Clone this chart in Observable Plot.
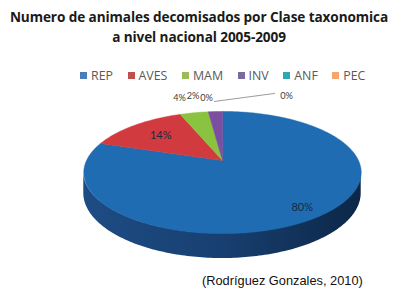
<!DOCTYPE html>
<html><head><meta charset="utf-8">
<script src="https://cdn.jsdelivr.net/npm/d3@7"></script>
<script src="https://cdn.jsdelivr.net/npm/@observablehq/plot@0.6"></script>
<style>
body{margin:0;background:#fff;width:396px;height:295px;position:relative;overflow:hidden;font-family:"Open Sans",Lato,sans-serif;}
#title{position:absolute;left:0;top:7px;width:398px;text-align:center;font-weight:bold;font-size:13.6px;line-height:20px;color:#1a1a1a;letter-spacing:-0.1px;}
#legend{position:absolute;left:80px;top:59px;white-space:nowrap;}
#chart{position:absolute;left:0;top:80px;}
#caption{position:absolute;left:202px;top:273px;font-family:"Liberation Sans",Arial,sans-serif;font-size:12.8px;color:#111;}
.lg-swatches{font-family:"Open Sans",sans-serif !important;font-size:12.4px !important;color:#595959 !important;margin:0 !important;}
.lg-swatch{margin-right:14.5px !important;}
.lg-swatch > svg{margin-right:4px !important;}
</style></head><body>
<div id="title"></div><div id="legend"></div><div id="chart"></div><div id="caption"></div>
<script>
const categories = ["REP","AVES","MAM","INV","ANF","PEC"];
const percents = [80,14,4,2,0,0];
const sliceColors = ["#1F6CB3","#D13A3F","#8AC340","#7B4E9F","#2FA3B5","#F39A5C"];
const legendColors = ["#4A7EBB","#C0504D","#9BBB59","#7A6A9E","#31A6B5","#F5A46E"];
const titleLines = ["Numero de animales decomisados por Clase taxonomica","a nivel nacional 2005-2009"];
const caption = "(Rodríguez Gonzales, 2010)";

const W = 396, H = 185;
const CX = 222, CY = 80, RX = 136, RY = 58.7, P = 0.197, DEPTH = 20;
function proj(r, deg) {
  const t = deg * Math.PI / 180;
  const X = r * Math.sin(t), Z = -r * Math.cos(t);
  const f = 1 / (1 - P * Z);
  return {x: CX + RX * X * f, y: CY + RY * Z * f, f};
}

// slices
const total = d3.sum(percents);
let acc = 0;
const slices = categories.map((c, i) => {
  const a0 = acc / total * 360; acc += percents[i];
  const a1 = acc / total * 360;
  return {cat: c, value: percents[i], a0, a1, mid: (a0 + a1) / 2};
});
const slicePts = [];
for (const s of slices) {
  if (s.value <= 0) continue;
  const o = proj(0, 0);
  slicePts.push({cat: s.cat, x: o.x, y: o.y});
  const n = Math.max(2, Math.ceil(s.a1 - s.a0));
  for (let k = 0; k <= n; k++) {
    const p = proj(1, s.a0 + (s.a1 - s.a0) * k / n);
    slicePts.push({cat: s.cat, x: p.x, y: p.y});
  }
  slicePts.push({cat: s.cat, x: o.x, y: o.y});
}
// side band (visible near half)
const aSide = Math.acos(-P) * 180 / Math.PI;
const sideData = [];
for (let k = 0; k <= 160; k++) {
  const a = aSide + (360 - 2 * aSide) * k / 160;
  const p = proj(1, a);
  sideData.push({x: p.x, y1: p.y, y2: p.y + DEPTH * p.f});
}
// labels
const inner = [], outer = [];
for (const s of slices) {
  const txt = s.value + "%";
  if (s.value >= 10) {
    const p = proj(s.value > 50 ? 0.86 : 0.68, s.mid);
    inner.push({x: p.x, y: p.y, text: txt});
  } else outer.push({cat: s.cat, text: txt, mid: s.mid});
}
const outR = 1.39;
const leaderLabel = outer[outer.length - 1];
const row = outer.slice(0, -1);
let nextX = null;
const rowLabels = [];
for (let i = row.length - 1; i >= 0; i--) {
  const p = proj(outR, row[i].mid);
  let x = nextX === null ? p.x - 16 : Math.min(p.x, nextX - 13.5);
  rowLabels.unshift({x, y: p.y + (i === row.length - 1 ? 2 : 0), text: row[i].text});
  nextX = x;
}
const lp = proj(outR, leaderLabel.mid);
const leaderText = [{x: lp.x + 64, y: lp.y, text: leaderLabel.text}];
const lastRow = rowLabels[rowLabels.length - 1];
const leader = [{x: lastRow.x + 8, y: lastRow.y + 3}, {x: lp.x + 52, y: lp.y - 3}];

const defsMark = () => {
  const ns = "http://www.w3.org/2000/svg";
  const defs = document.createElementNS(ns, "defs");
  const g = document.createElementNS(ns, "linearGradient");
  g.setAttribute("id", "sideGrad");
  g.setAttribute("x1", "0"); g.setAttribute("x2", "1"); g.setAttribute("y1", "0"); g.setAttribute("y2", "0");
  [["0", "#1D4C84"], ["0.5", "#183F70"], ["1", "#0C2747"]].forEach(([o, c]) => {
    const st = document.createElementNS(ns, "stop");
    st.setAttribute("offset", o); st.setAttribute("stop-color", c);
    g.appendChild(st);
  });
  defs.appendChild(g);
  return defs;
};

const chart = Plot.plot({
  width: W, height: H, margin: 0,
  style: {background: "transparent"},
  x: {domain: [0, W], range: [0, W], axis: null},
  y: {domain: [0, H], range: [0, H], axis: null},
  color: {domain: categories, range: sliceColors},
  marks: [
    defsMark,
    Plot.areaY(sideData, {x: "x", y1: "y1", y2: "y2", fill: "url(#sideGrad)"}),
    Plot.line(slicePts, {x: "x", y: "y", z: "cat", fill: "cat", stroke: "cat", strokeWidth: 0.5, curve: "linear"}),
    Plot.text(inner, {x: "x", y: "y", text: "text", fontSize: 11, fontFamily: "Lato", fill: "#1a2a40"}),
    Plot.text(rowLabels, {x: "x", y: "y", text: "text", fontSize: 9.2, fontFamily: "Lato", fill: "#404040"}),
    Plot.text(leaderText, {x: "x", y: "y", text: "text", fontSize: 9.2, fontFamily: "Lato", fill: "#404040"}),
    Plot.line(leader, {x: "x", y: "y", stroke: "#808080", strokeWidth: 0.8})
  ]
});
document.getElementById("chart").appendChild(chart);

const legend = Plot.legend({
  color: {domain: categories, range: legendColors},
  legend: "swatches", swatchSize: 7, className: "lg"
});
document.getElementById("legend").appendChild(legend);

document.getElementById("title").innerHTML = titleLines.map(t => `<div>${t}</div>`).join("");
document.getElementById("caption").textContent = caption;
</script>
</body></html>
